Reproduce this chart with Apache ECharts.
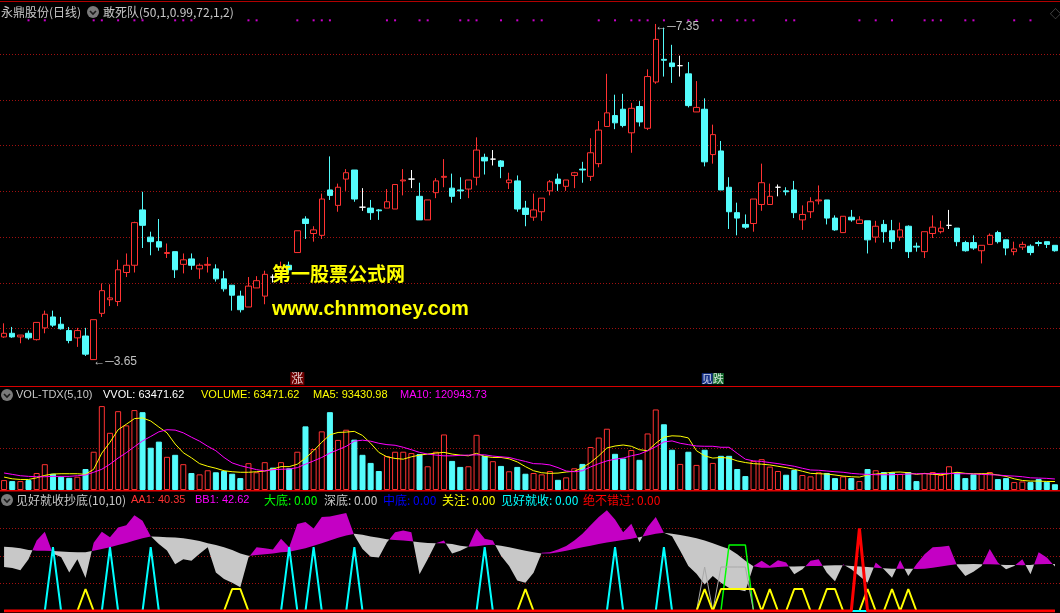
<!DOCTYPE html>
<html><head><meta charset="utf-8">
<script src="https://cdn.jsdelivr.net/npm/echarts@6/dist/echarts.min.js"></script>
<style>html,body{margin:0;padding:0;background:#000;overflow:hidden}#c{width:1060px;height:613px}</style>
</head><body><div id="c"></div>
<script>
// ---------------- data ----------------
const categories = Array.from({length: 130}, (_, i) => 'D' + (i + 1));
const opens = [3.90,3.94,3.90,3.94,3.87,4.00,4.12,4.04,3.97,3.89,
3.91,3.65,4.16,4.31,4.29,4.61,4.69,5.30,5.00,4.95,
4.82,4.84,4.70,4.76,4.65,4.69,4.65,4.54,4.47,4.35,
4.23,4.44,4.35,4.56,4.62,4.69,4.83,5.20,5.04,5.02,
5.52,5.35,5.64,5.74,5.33,5.32,5.30,5.32,5.31,5.62,
5.64,5.45,5.19,5.49,5.66,5.54,5.52,5.53,5.66,5.88,
5.86,5.84,5.60,5.62,5.32,5.22,5.28,5.51,5.64,5.56,
5.68,5.75,5.67,5.81,6.22,6.34,6.41,6.15,6.44,6.20,
6.71,6.96,6.92,6.89,6.80,6.38,6.41,5.91,5.95,5.55,
5.27,5.14,5.15,5.36,5.36,5.55,5.51,5.52,5.19,5.28,
5.40,5.41,5.21,5.05,5.22,5.15,5.18,5.00,5.14,5.07,
5.00,5.12,4.90,4.84,5.04,5.06,5.13,5.10,4.94,4.94,
4.85,4.92,5.05,4.97,4.84,4.89,4.90,4.94,4.95,4.91];
const closes = [3.94,3.90,3.92,3.89,4.06,4.15,4.03,3.99,3.86,3.97,
3.71,4.09,4.41,4.33,4.64,4.69,5.16,5.13,4.95,4.89,
4.83,4.64,4.75,4.69,4.69,4.70,4.54,4.43,4.36,4.20,
4.46,4.52,4.59,4.56,4.66,4.64,5.07,5.15,5.08,5.42,
5.46,5.55,5.71,5.42,5.33,5.27,5.29,5.39,5.58,5.63,
5.64,5.19,5.41,5.62,5.67,5.45,5.51,5.63,5.96,5.84,
5.86,5.78,5.63,5.31,5.25,5.30,5.43,5.61,5.59,5.63,
5.71,5.74,5.93,6.18,6.37,6.26,6.23,6.42,6.27,6.77,
7.18,6.95,6.88,6.89,6.45,6.43,5.83,6.13,5.52,5.28,
5.21,5.11,5.42,5.60,5.45,5.55,5.50,5.27,5.25,5.39,
5.41,5.21,5.08,5.23,5.19,5.19,4.97,5.12,5.06,4.95,
5.08,4.84,4.89,5.06,5.11,5.10,5.13,4.95,4.85,4.88,
4.91,5.02,4.95,4.88,4.87,4.92,4.83,4.93,4.92,4.85];
const highs = [4.05,4.01,3.92,3.97,4.06,4.19,4.19,4.12,4.01,4.00,
4.00,4.09,4.49,4.48,4.75,4.82,5.17,5.50,5.06,5.20,
4.93,4.84,4.82,4.82,4.71,4.78,4.70,4.63,4.47,4.41,
4.56,4.57,4.63,4.59,4.73,4.73,5.07,5.23,5.12,5.48,
5.89,5.59,5.75,5.74,5.54,5.41,5.31,5.53,5.58,5.75,
5.74,5.60,5.41,5.65,5.86,5.70,5.66,5.63,6.10,5.92,
5.96,5.85,5.71,5.68,5.40,5.48,5.43,5.63,5.70,5.63,
5.72,5.83,6.09,6.28,6.80,6.57,6.58,6.48,6.50,6.85,
7.35,7.31,7.12,7.00,6.93,6.72,6.53,6.24,6.06,5.66,
5.38,5.25,5.42,5.81,5.59,5.58,5.55,5.62,5.35,5.44,
5.57,5.41,5.24,5.23,5.30,5.23,5.18,5.18,5.19,5.19,
5.16,5.13,4.94,5.06,5.24,5.18,5.30,5.10,4.96,5.02,
4.91,5.04,5.07,4.97,4.95,4.95,4.92,4.96,4.95,4.91];
const lows = [3.89,3.89,3.83,3.87,3.86,3.94,4.01,3.98,3.83,3.79,
3.69,3.65,4.12,4.24,4.24,4.56,4.61,4.88,4.80,4.85,
4.77,4.55,4.60,4.64,4.54,4.61,4.51,4.40,4.19,4.17,
4.23,4.44,4.26,4.50,4.58,4.60,4.83,4.98,4.95,4.98,
5.41,5.28,5.51,5.39,5.29,5.19,5.19,5.32,5.31,5.46,
5.54,5.19,5.19,5.43,5.55,5.38,5.42,5.43,5.57,5.69,
5.79,5.65,5.53,5.28,5.12,5.18,5.18,5.46,5.51,5.51,
5.54,5.60,5.62,5.77,6.22,6.19,6.21,5.93,6.22,6.18,
6.69,6.77,6.70,6.77,6.43,6.38,5.78,5.81,5.52,5.09,
5.02,5.09,5.06,5.29,5.36,5.45,5.46,5.21,5.08,5.21,
5.36,5.14,5.07,5.05,5.17,5.15,4.82,4.94,4.94,4.87,
4.96,4.77,4.84,4.77,4.99,5.04,5.09,4.90,4.84,4.86,
4.71,4.92,4.93,4.80,4.80,4.86,4.80,4.90,4.88,4.84];
const volumes = [109000,98000,98000,109000,187000,284000,179000,146000,134000,146000,
231000,421000,923000,629000,867000,711000,879000,856000,465000,532000,
365000,387000,284000,187000,172000,217000,195000,209000,179000,131000,
295000,195000,306000,246000,306000,239000,421000,700000,451000,645000,
856000,551000,663000,554000,387000,298000,209000,373000,421000,421000,
406000,395000,261000,421000,611000,320000,254000,261000,607000,376000,
317000,265000,206000,254000,179000,187000,172000,209000,112000,139000,
239000,287000,473000,577000,674000,398000,347000,440000,332000,622000,
886000,723000,443000,287000,421000,276000,443000,298000,376000,376000,
231000,153000,320000,339000,257000,209000,168000,220000,165000,150000,
195000,187000,131000,150000,131000,98000,231000,217000,198000,195000,
176000,198000,98000,187000,198000,165000,261000,195000,131000,172000,
183000,198000,120000,131000,87000,94000,87000,120000,90000,63471.62];
const volMA5 = [142000,123000,116000,116000,134000,161000,176000,179000,179000,179000,
172000,228000,406000,525000,663000,723000,785000,793000,759000,693000,
629000,506000,410000,354000,290000,261000,239000,212000,201000,195000,
195000,201000,209000,231000,257000,257000,284000,351000,432000,525000,
607000,633000,637000,645000,600000,514000,414000,365000,347000,339000,
365000,384000,395000,406000,414000,395000,384000,376000,403000,369000,
358000,358000,343000,309000,257000,212000,190000,183000,186000,198000,
206000,246000,302000,376000,462000,484000,495000,481000,443000,432000,
514000,581000,596000,592000,573000,432000,376000,351000,358000,351000,
320000,302000,290000,284000,276000,261000,246000,228000,206000,183000,
179000,176000,165000,153000,146000,142000,165000,176000,183000,195000,
198000,190000,172000,183000,172000,168000,179000,195000,183000,179000,
179000,179000,165000,150000,123000,105000,98000,98000,94000,93430.98];
const volMA10 = [187000,172000,157000,150000,146000,146000,150000,150000,150000,157000,
165000,195000,228000,284000,351000,410000,476000,540000,589000,640000,
663000,659000,629000,581000,537000,481000,432000,358000,298000,268000,
246000,224000,209000,224000,228000,231000,246000,284000,320000,358000,
406000,443000,481000,537000,548000,537000,514000,499000,492000,470000,
443000,414000,395000,384000,376000,376000,381000,384000,387000,387000,
373000,365000,358000,335000,314000,290000,287000,276000,246000,209000,
201000,212000,254000,290000,320000,339000,351000,376000,395000,432000,
476000,529000,540000,514000,499000,484000,481000,481000,470000,470000,
403000,339000,320000,314000,302000,290000,276000,261000,239000,220000,
217000,209000,201000,195000,183000,176000,172000,168000,168000,168000,
172000,176000,179000,179000,179000,183000,183000,179000,179000,176000,
172000,168000,165000,157000,153000,146000,134000,131000,128000,120943.73];
const AA1 = [40,39,37,47,64,72,52,49,35,47,
30,62,72,67,76,78,87,82,68,61,
55,42.5,47,45.6,52,58,35,29,25.6,21.6,
48.6,58,57,56,65.6,58,79,81,75,85.5,
86,87.5,89,68.6,56.3,49.3,48.6,62.5,71.7,73.2,
71.7,33.3,47,61.6,64,52.3,54.8,58.5,74.8,65.6,
64,50.2,41,27.7,25.6,34.8,53,53.5,56,59,
64,70.2,77.9,85.5,91.7,83.1,71.7,79.4,62.5,76.3,
85.5,71.1,68,54.8,41,33.9,24.1,31.8,25.6,21,
19.5,17.9,41,45.6,41,46.2,44,33.3,37.9,45.6,
47.1,34.8,27.1,42.5,37.9,31.8,25.6,44,37.9,30.2,
46.2,31.8,42.5,51.7,57.9,58.5,59.4,41,31.8,35.7,
41,56.3,44,37.9,41,47.1,33.3,53.3,48.6,40.35];
const BB1 = [58.5,58,57,55.5,54.8,54.8,54.5,54,53.6,53.3,
53.3,54.8,56.3,58,60,61.9,64,66.2,67.7,67.4,
67.1,66.8,66.2,65,63.7,61.6,60,57.9,55.4,52.3,
50.2,50.8,51.7,52.3,53.3,53.8,55.4,57,59.4,61.6,
64,66.5,68.6,70.2,69.3,67.7,66.5,65.3,64.6,64,
63.4,62.5,61.9,61.6,61.6,60.9,59.4,58.5,58.8,59.7,
60.3,59.4,57.9,56.3,54.8,53.3,52.3,52.3,53.3,54.8,
56.3,57.9,59.4,60.9,62.2,63.4,64.6,65.6,67.1,68.6,
70.2,71.1,70.2,69,67.7,66.2,64,61.6,58.8,56.3,
51.7,45.6,40.6,39.4,39.4,40,40.4,40.4,40.6,41,
41,41.3,41.6,41.6,41,40.4,40,39.4,38.8,38.5,
38.5,38.5,38.2,38.5,39.4,40.4,41.6,42.5,42.5,42.8,
42.5,42.5,42.2,41.9,41.9,41.6,41.9,42.5,42.8,42.62];
// signal bars of the bottom indicator (index lists) and their plotted levels
const daDiIdx = [89,90,91];            const daDiLevel = 60;     // 大底
const shenDiIdx = [86,88,89,90,91];    const shenDiLevel = 40;   // 深底
const zhongDiIdx = [];                 const zhongDiLevel = 50;  // 中底
const guanZhuIdx = [10,28,29,64,86,88,89,90,91,92,94,97,98,101,102,106,109,111]; const guanZhuLevel = 20; // 关注
const jianHaoIdx = [6,13,18,35,38,43,59,75,81]; const jianHaoLevel = 58; // 见好就收
const jueBuIdx = [105];                const jueBuLevel = 75;    // 绝不错过
// 敢死队 dots along the top
const gsdDots = [3,5,11,12,14,16,17,21,22,23,30,31,36,38,39,40,47,48,51,52,56,57,58,61,63,65,66,73,75,77,78,79,81,84,85,87,88,90,91,92,96,97,105,107,109,113,114,115,118,119,124,126];
const gsdLevel = 7.39;
const signalZhang = 36, signalJianDie = 87, signalLevel = 3.44;
const hiIdx = 80, hiVal = 7.35, loIdx = 11, loVal = 3.65;

// ---------------- chart ----------------
const N = opens.length;
const RED = '#FF3232', CYAN = '#54FCFC', MAG = '#C400C4', GREYF = '#C8C8C8';
const FONT = '"Liberation Sans","Noto Sans CJK SC",sans-serif';
const CJK = '"Noto Sans CJK SC","Liberation Sans",sans-serif';
function isUp(i){ if (closes[i] > opens[i]) return true; if (closes[i] < opens[i]) return false; return i > 0 ? closes[i] >= closes[i-1] : true; }
const candleData = opens.map((o,i) => [o, closes[i], lows[i], highs[i]]);
const volData = volumes.map((v,i) => ({value: v, itemStyle: isUp(i) ? {color:'#000', borderColor: RED, borderWidth: 1} : {color: CYAN, borderColor: CYAN, borderWidth: 1}}));
function spikes(idx, lvl){ const a = new Array(N).fill(0); idx.forEach(i => a[i] = lvl); return a; }

const GL = -1.8, GW = 1060.8;
const dotted = {color:'#A01010', type:[1,2], width:1};
const hiddenCat = (gi) => ({type:'category', gridIndex: gi, data: categories, boundaryGap: true, show: false});
const lineAxisX = (gi) => ({type:'value', gridIndex: gi, min:0, max:1, show:false});
const lineAxisY = (gi, max, extra) => Object.assign({type:'value', gridIndex: gi, min:0, max:max, interval:1, axisLine:{show:false}, axisTick:{show:false}, axisLabel:{show:false}, splitLine:{show:true, lineStyle: dotted}}, extra||{});

const lineSeries = (name, data, color, width, z) => ({name, type:'line', xAxisIndex:2, yAxisIndex:2, data, symbol:'none', lineStyle:{color, width}, z: z, silent:true});

// band between AA1 and BB1: magenta where AA1 > BB1, grey otherwise (one polygon per run)
function renderBand(params, api){
  if (params.dataIndex !== 0) return null;
  const polys = [];
  const sgn = d => d > 0 ? 1 : (d < 0 ? -1 : 0);
  let s = sgn(AA1[0] - BB1[0]);
  let U = [api.coord([0, AA1[0]])], L = [api.coord([0, BB1[0]])];
  const flush = () => { if (U.length > 1) polys.push({type:'polygon', shape:{points: U.concat(L.slice().reverse())}, style:{fill: s >= 0 ? MAG : GREYF}}); };
  for (let i = 0; i < N - 1; i++) {
    const d0 = AA1[i] - BB1[i], d1 = AA1[i+1] - BB1[i+1];
    const A1 = api.coord([i+1, AA1[i+1]]), B1 = api.coord([i+1, BB1[i+1]]);
    const s1 = sgn(d1);
    if (s === 0) s = s1;
    if (s1 === 0 || s1 === s) { U.push(A1); L.push(B1); continue; }
    const A0 = api.coord([i, AA1[i]]);
    const t = d0 / (d0 - d1);
    const C = [A0[0] + t * (A1[0] - A0[0]), A0[1] + t * (A1[1] - A0[1])];
    U.push(C); L.push(C); flush();
    s = s1; U = [C, A1]; L = [C, B1];
  }
  flush();
  return {type:'group', children: polys};
}

const option = {
  backgroundColor: '#000',
  animation: false,
  grid: [
    {left: GL, width: GW, top: 2, height: 384},
    {left: GL, width: GW, top: 400, height: 90},
    {left: GL, width: GW, top: 501, height: 110},
    {left: 0, right: 0, top: 54, height: 274.5},
    {left: 0, right: 0, top: 448, height: 42},
    {left: 0, right: 0, top: 528.5, height: 55}
  ],
  xAxis: [hiddenCat(0), hiddenCat(1), hiddenCat(2), lineAxisX(3), lineAxisX(4), lineAxisX(5)],
  yAxis: [
    {type:'value', gridIndex:0, min:3.359, max:7.592, show:false},
    {type:'value', gridIndex:1, min:0, max:990000, show:false},
    {type:'value', gridIndex:2, min:0, max:100, show:false},
    lineAxisY(3, 6),
    lineAxisY(4, 1, {splitLine:{show:true, showMinLine:false, lineStyle: dotted}}),
    lineAxisY(5, 2)
  ],
  series: [
    {type:'candlestick', xAxisIndex:0, yAxisIndex:0, data: candleData, barWidth: 6,
     itemStyle:{color:'#000', color0: CYAN, borderColor: RED, borderColor0: CYAN, borderColorDoji:'#FFFFFF', borderWidth:1},
     markPoint:{symbol:'circle', symbolSize:1, itemStyle:{color:'rgba(0,0,0,0)'}, silent:true,
       label:{show:true, position:'right', distance:0, color:'#C0C0C0', fontSize:12, fontFamily: FONT},
       data:[{coord:[hiIdx, hiVal], label:{formatter:'←─' + hiVal.toFixed(2), offset:[-1,3]}},
             {coord:[loIdx, loVal], label:{formatter:'←─' + loVal.toFixed(2), offset:[-1,2]}}]}
    },
    {type:'scatter', xAxisIndex:0, yAxisIndex:0, data: gsdDots.map(i => [i, gsdLevel]), symbol:'rect', symbolSize:2, itemStyle:{color:'#FF00FF'}, silent:true},
    {type:'scatter', xAxisIndex:0, yAxisIndex:0, symbol:'rect', symbolSize:1, itemStyle:{color:'rgba(0,0,0,0)'}, silent:true,
     data:[
       {value:[signalZhang, signalLevel], label:{show:true, position:'inside', formatter:'涨', color:'#fff', backgroundColor:'#8A0000', fontSize:12, fontFamily: CJK, padding:[0,1], lineHeight:13}},
       {value:[signalJianDie, signalLevel], label:{show:true, position:'inside', formatter:'{a|见}{b|跌}', fontSize:12, fontFamily: CJK,
          rich:{a:{color:'#fff', backgroundColor:'#1A3CA8', fontSize:11, lineHeight:13}, b:{color:'#fff', backgroundColor:'#1C8C3C', fontSize:11, lineHeight:13}}}}
     ]},
    {type:'bar', xAxisIndex:1, yAxisIndex:1, data: volData, barWidth: 6, silent:true},
    {type:'line', xAxisIndex:1, yAxisIndex:1, data: volMA5, symbol:'none', lineStyle:{color:'#FFFF00', width:1}, silent:true},
    {type:'line', xAxisIndex:1, yAxisIndex:1, data: volMA10, symbol:'none', lineStyle:{color:'#FF00FF', width:1}, silent:true},
    {type:'custom', xAxisIndex:2, yAxisIndex:2, data: AA1.map((a,i) => [i, a, BB1[i]]), encode:{x:0, y:[1,2]}, silent:true, z:1, renderItem: renderBand},
    lineSeries('大底', spikes(daDiIdx, daDiLevel), '#00FF00', 1.5, 3),
    lineSeries('深底', spikes(shenDiIdx, shenDiLevel), '#A8A8A8', 1, 3),
    lineSeries('中底', spikes(zhongDiIdx, zhongDiLevel), '#0000FF', 2, 3),
    lineSeries('关注', spikes(guanZhuIdx, guanZhuLevel), '#FFFF00', 2, 4),
    lineSeries('见好就收', spikes(jianHaoIdx, jianHaoLevel), '#00FFFF', 2, 5),
    lineSeries('绝不错过', spikes(jueBuIdx, jueBuLevel), '#FF0000', 3, 6)
  ],
  graphic: []
};

// frame lines, headers, watermark
const g = option.graphic;
const txt = (text, x, y, fill, size, fam, extra) => ({type:'text', x, y, z:100, silent:true, style: Object.assign({text, fill, fontSize: size, fontFamily: fam || FONT, verticalAlign:'middle'}, extra||{})});
const icon = (cx, cy) => ({type:'group', x: cx, y: cy, z:100, silent:true, children:[
  {type:'circle', shape:{cx:0, cy:0, r:6}, style:{fill:'#7A7A7A'}},
  {type:'polyline', shape:{points:[[-3,-1],[0,2],[3,-1]]}, style:{stroke:'#1A1A1A', lineWidth:1.6, fill:null}}]});
g.push({type:'rect', shape:{x:0, y:1, width:1060, height:1}, style:{fill:'#B00000'}, z:90, silent:true});
g.push({type:'rect', shape:{x:0, y:386, width:1060, height:1}, style:{fill:'#D80000'}, z:90, silent:true});
g.push({type:'rect', shape:{x:0, y:490, width:1060, height:1.5}, style:{fill:'#E00000'}, z:90, silent:true});
g.push(txt('永鼎股份(日线)', 1, 12, '#C8C8C8', 12, CJK));
g.push(icon(93, 12));
g.push(txt('敢死队(50,1,0.99,72,1,2)', 103, 12, '#C8C8C8', 12, CJK));
g.push(txt('◇', 1050, 15, '#707070', 11, FONT));
g.push(icon(7, 395));
g.push(txt('VOL-TDX(5,10)', 16, 395, '#C8C8C8', 11));
g.push(txt('VVOL: 63471.62', 103, 395, '#FFFFFF', 11));
g.push(txt('VOLUME: 63471.62', 201, 395, '#FFFF00', 11));
g.push(txt('MA5: 93430.98', 313, 395, '#FFFF00', 11));
g.push(txt('MA10: 120943.73', 400, 395, '#FF00FF', 11));
g.push(icon(7, 500));
g.push(txt('见好就收抄底(10,10)', 16, 500, '#C8C8C8', 12, CJK));
g.push(txt('AA1: 40.35', 131, 500, '#FF3232', 11));
g.push(txt('BB1: 42.62', 195, 500, '#FF00FF', 11));
g.push(txt('大底: 0.00', 264, 500, '#00FF00', 12, CJK));
g.push(txt('深底: 0.00', 324, 500, '#C8C8C8', 12, CJK));
g.push(txt('中底: 0.00', 383, 500, '#0000FF', 12, CJK));
g.push(txt('关注: 0.00', 442, 500, '#FFFF00', 12, CJK));
g.push(txt('见好就收: 0.00', 501, 500, '#00FFFF', 12, CJK));
g.push(txt('绝不错过: 0.00', 583, 500, '#FF0000', 12, CJK));
g.push(txt('第一股票公式网', 272, 274, '#FFFF00', 19, CJK, {fontWeight:'bold'}));
g.push(txt('www.chnmoney.com', 272, 309, '#FFFF00', 20, FONT, {fontWeight:'bold'}));

const chart = echarts.init(document.getElementById('c'), null, {renderer:'canvas'});
chart.setOption(option);
</script></body></html>
